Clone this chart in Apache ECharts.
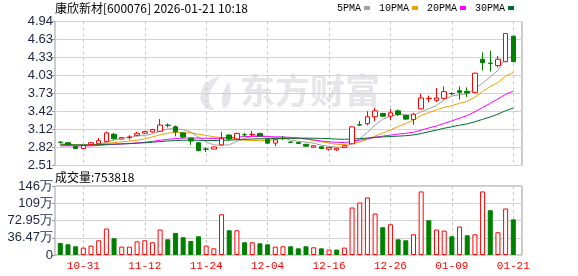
<!DOCTYPE html>
<html><head><meta charset="utf-8">
<script src="https://cdn.jsdelivr.net/npm/echarts@6/dist/echarts.min.js"></script>
<style>html,body{margin:0;padding:0;background:#fff}#c{width:578px;height:276px}</style>
</head><body><div id="c"></div>
<script>
const stockName = '康欣新材';
const stockCode = '600076';
const quoteTime = '2026-01-21 10:18';

const dates = ['10-28','10-29','10-30','10-31','11-03','11-04','11-05','11-06','11-07','11-10',
 '11-11','11-12','11-13','11-14','11-17','11-18','11-19','11-20','11-21','11-24',
 '11-25','11-26','11-27','11-28','12-01','12-02','12-03','12-04','12-05','12-08',
 '12-09','12-10','12-11','12-12','12-15','12-16','12-17','12-18','12-19','12-22',
 '12-23','12-24','12-25','12-26','12-29','12-30','12-31','01-05','01-06','01-07',
 '01-08','01-09','01-12','01-13','01-14','01-15','01-16','01-19','01-20','01-21'];

const opens = [2.905,2.896,2.833,2.799,2.867,2.879,2.918,3.039,2.959,2.982,
 3.021,3.056,3.079,3.090,3.192,3.165,3.061,2.970,2.895,2.790,
 2.790,2.860,3.025,2.959,3.032,3.033,3.053,2.955,2.890,2.972,
 2.907,2.899,2.870,2.821,2.827,2.787,2.776,2.815,2.878,3.198,
 3.216,3.333,3.389,3.344,3.433,3.355,3.288,3.466,3.638,3.611,
 3.644,3.725,3.772,3.761,3.744,4.301,4.236,4.196,4.262,4.690];
const closes = [2.902,2.861,2.799,2.850,2.896,2.930,3.061,2.964,2.982,2.993,
 3.056,3.084,3.119,3.193,3.188,3.079,2.993,2.925,2.765,2.787,
 2.824,2.970,2.959,3.053,3.029,3.039,3.009,2.889,2.945,2.968,
 2.903,2.884,2.838,2.844,2.799,2.816,2.804,2.845,3.163,3.194,
 3.333,3.433,3.344,3.400,3.372,3.294,3.377,3.650,3.645,3.650,
 3.756,3.721,3.744,3.733,4.067,4.245,4.232,4.301,4.735,4.262];
const highs = [2.924,2.902,2.839,2.861,2.902,2.976,3.085,3.061,2.987,3.022,
 3.079,3.096,3.130,3.296,3.222,3.187,3.073,2.982,2.907,2.820,
 2.830,3.080,3.035,3.064,3.064,3.097,3.064,2.970,2.955,3.010,
 2.920,2.905,2.875,2.850,2.833,2.820,2.810,2.860,3.170,3.261,
 3.427,3.483,3.400,3.466,3.455,3.360,3.400,3.722,3.689,3.817,
 3.845,3.745,3.845,3.828,4.075,4.418,4.445,4.356,4.740,4.700];
const lows = [2.884,2.856,2.793,2.793,2.861,2.873,2.901,2.947,2.953,2.947,
 3.004,3.044,3.067,3.084,3.153,3.004,2.964,2.860,2.750,2.740,
 2.785,2.854,2.931,2.953,2.998,3.009,2.998,2.878,2.838,2.940,
 2.890,2.875,2.833,2.815,2.793,2.764,2.758,2.810,2.870,3.177,
 3.188,3.261,3.327,3.277,3.344,3.280,3.199,3.455,3.578,3.578,
 3.622,3.700,3.622,3.667,3.730,4.112,4.095,4.162,4.250,4.250];
const volumes = [254000,227000,184000,156000,198000,311000,559000,354000,177000,177000,
 290000,311000,269000,538000,332000,467000,375000,297000,396000,198000,
 141000,862000,523000,523000,269000,269000,247000,226000,177000,184000,
 184000,141000,184000,163000,141000,114000,114000,156000,1004000,1110000,
 1217000,877000,587000,650000,332000,311000,438000,1344000,735000,538000,
 516000,396000,601000,417000,438000,1344000,947000,481000,983000,753818];

const ma5 = [2.876,2.875,2.860,2.856,2.862,2.867,2.907,2.940,2.967,2.986,
 3.011,3.016,3.047,3.089,3.128,3.133,3.114,3.076,2.990,2.910,
 2.859,2.854,2.861,2.919,2.967,3.010,3.018,3.004,2.982,2.970,
 2.943,2.918,2.908,2.887,2.854,2.836,2.820,2.822,2.885,2.964,
 3.068,3.194,3.293,3.341,3.376,3.369,3.357,3.419,3.468,3.523,
 3.616,3.684,3.703,3.721,3.804,3.902,4.004,4.116,4.316,4.355];
const ma10 = [2.864,2.864,2.858,2.857,2.861,2.868,2.888,2.898,2.911,2.924,
 2.939,2.962,2.994,3.028,3.057,3.072,3.065,3.061,3.040,3.019,
 2.996,2.984,2.968,2.954,2.938,2.934,2.936,2.932,2.950,2.969,
 2.976,2.968,2.956,2.935,2.912,2.890,2.869,2.865,2.886,2.909,
 2.952,3.007,3.058,3.113,3.170,3.218,3.276,3.356,3.404,3.450,
 3.492,3.521,3.561,3.594,3.664,3.759,3.844,3.909,4.018,4.080];
const ma20 = [2.843,2.844,2.842,2.843,2.845,2.850,2.861,2.867,2.874,2.882,
 2.893,2.905,2.919,2.937,2.954,2.966,2.974,2.978,2.974,2.971,
 2.967,2.973,2.981,2.991,2.998,3.003,3.001,2.997,2.995,2.994,
 2.986,2.976,2.962,2.945,2.925,2.912,2.903,2.899,2.918,2.939,
 2.964,2.987,3.007,3.024,3.041,3.054,3.072,3.110,3.145,3.179,
 3.222,3.264,3.309,3.354,3.417,3.489,3.560,3.633,3.711,3.765];
const ma30 = [2.861,2.861,2.859,2.859,2.860,2.863,2.869,2.873,2.877,2.881,
 2.888,2.895,2.904,2.915,2.926,2.933,2.938,2.940,2.937,2.934,
 2.933,2.937,2.940,2.946,2.952,2.958,2.963,2.964,2.967,2.970,
 2.970,2.971,2.973,2.972,2.969,2.965,2.957,2.953,2.959,2.965,
 2.975,2.986,2.994,3.001,3.007,3.014,3.027,3.051,3.080,3.109,
 3.140,3.165,3.191,3.214,3.249,3.289,3.330,3.377,3.436,3.479];

const maNames = ['5PMA','10PMA','20PMA','30PMA'];
const priceMin = 2.5124, priceMax = 4.938, priceStep = 0.3032;
const priceTickLabels = ['2.51','2.82','3.12','3.42','3.73','4.03','4.33','4.63','4.94'];
const volMax = 1459000, volStep = 364750;
const volTickLabels = ['0','36.47万','72.95万','109万','146万'];
const labelEvery = 8, labelOffset = 3;

const RED = '#ff0000', GREEN = '#008000';
const maColors = ['#a0a0a0', '#f0a000', '#ff00ff', '#006e32'];
const axisTextColor = '#1b2540';
const wmColor = '#e6e6ea';

const candleData = dates.map((d, i) => [opens[i], closes[i], lows[i], highs[i]]);
const volData = volumes.map((v, i) => {
  const up = i === 0 ? closes[i] >= opens[i] : closes[i] >= closes[i - 1];
  return { value: v, itemStyle: up ? { color: '#fff', borderColor: RED, borderWidth: 1 } : { color: GREEN, borderColor: GREEN, borderWidth: 1 } };
});
const showAt = (idx) => (idx - labelOffset) % labelEvery === 0;

const chart = echarts.init(document.getElementById('c'));
const dashed = { show: true, interval: showAt, lineStyle: { color: '#c8c8c8', type: [3, 3], width: 1 } };

chart.setOption({
  animation: false,
  backgroundColor: '#fff',
  title: [
    { text: stockName + '[' + stockCode + '] ' + quoteTime, left: 55, top: 1, padding: 0,
      textStyle: { fontSize: 12, fontWeight: 'normal', color: '#000', fontFamily: 'Noto Sans CJK SC', lineHeight: 14 } },
    { text: '成交量:' + volumes[volumes.length - 1], left: 55, top: 170, padding: 0,
      textStyle: { fontSize: 12, fontWeight: 'normal', color: '#000', fontFamily: 'Noto Sans CJK SC', lineHeight: 14 } }
  ],
  legend: {
    data: maNames.map(n => ({ name: n, icon: 'rect' })),
    left: 337, top: 3, padding: 0, align: 'right', itemWidth: 6, itemHeight: 4, itemGap: 9,
    textStyle: { fontSize: 10, color: '#000', fontFamily: 'Liberation Mono', padding: [0, -2, 0, 0] },
    selectedMode: false
  },
  graphic: [
    { type: 'group', left: 200, top: 76, z: -10, silent: true, children: [
      { type: 'polygon', z: -10,
        shape: { points: [[22,0],[14,3],[7,8],[3,15],[2,22],[4,28],[8,32],[13,34],[17,34],[13,30],[11,25],[11,19],[14,12],[18,6]] },
        style: { fill: wmColor } },
      { type: 'polygon', z: -10,
        shape: { points: [[31,6],[27,12],[24,19],[24,26],[25,33],[29,30],[32,25],[33,18],[32,11]] },
        style: { fill: wmColor } }
    ] },
    { type: 'text', left: 240, top: 73, z: -10, silent: true,
      style: { text: '东方财富', font: 'bold 35px "Noto Sans CJK SC"', fill: wmColor } }
  ],
  grid: [
    { left: 55, top: 21.5, width: 467, height: 144, show: true, borderColor: '#999', borderWidth: 1 },
    { left: 60.3, top: 21.5, width: 453, height: 144 },
    { left: 55, top: 186, width: 467, height: 69, show: true, borderColor: '#999', borderWidth: 1 },
    { left: 60.3, top: 186, width: 453, height: 69 }
  ],
  xAxis: [
    { gridIndex: 0, type: 'value', min: 0, max: 1, show: false },
    { gridIndex: 1, type: 'category', data: dates, boundaryGap: false,
      axisLine: { show: false }, axisTick: { show: false }, axisLabel: { show: false }, splitLine: dashed },
    { gridIndex: 2, type: 'value', min: 0, max: 1, show: false },
    { gridIndex: 3, type: 'category', data: dates, boundaryGap: false,
      axisLine: { show: false }, axisTick: { show: false },
      axisLabel: { show: true, interval: showAt, color: RED, fontSize: 11, fontFamily: 'Liberation Mono', margin: 6 },
      splitLine: dashed }
  ],
  yAxis: [
    { gridIndex: 0, type: 'value', min: priceMin, max: priceMax, interval: priceStep,
      axisLine: { show: false }, axisTick: { show: true, length: 3, lineStyle: { color: '#999' } },
      axisLabel: { color: axisTextColor, fontSize: 13, fontFamily: 'Liberation Sans', margin: 2,
        formatter: v => priceTickLabels[Math.round((v - priceMin) / priceStep)] },
      splitLine: { show: true, lineStyle: { color: '#d2d2d2', width: 1 } } },
    { gridIndex: 1, type: 'value', min: priceMin, max: priceMax, show: false },
    { gridIndex: 2, type: 'value', min: 0, max: volMax, interval: volStep,
      axisLine: { show: false }, axisTick: { show: true, length: 3, lineStyle: { color: '#999' } },
      axisLabel: { color: axisTextColor, fontSize: 13, fontFamily: 'Liberation Sans', margin: 2,
        formatter: v => volTickLabels[Math.round(v / volStep)] },
      splitLine: { show: true, lineStyle: { color: '#d2d2d2', width: 1 } } },
    { gridIndex: 3, type: 'value', min: 0, max: volMax, show: false }
  ],
  series: [
    { type: 'candlestick', name: 'K', xAxisIndex: 1, yAxisIndex: 1, data: candleData, barWidth: 5, clip: false, z: 4,
      itemStyle: { color: '#fff', color0: GREEN, borderColor: RED, borderColor0: GREEN, borderWidth: 1 } },
    ...[ma5, ma10, ma20, ma30].map((arr, k) => ({
      type: 'line', name: maNames[k], xAxisIndex: 1, yAxisIndex: 1, data: arr, showSymbol: false, symbol: 'none',
      clip: false, lineStyle: { width: 1, color: maColors[k] }, itemStyle: { color: maColors[k] }, z: 3
    })),
    { type: 'bar', name: 'VOL', xAxisIndex: 3, yAxisIndex: 3, data: volData, barWidth: 5, clip: false }
  ]
});
</script></body></html>
